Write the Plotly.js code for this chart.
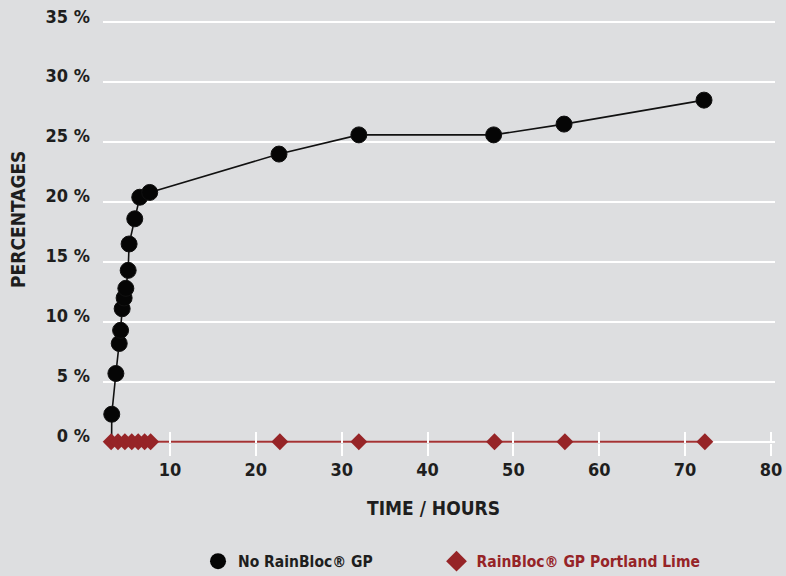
<!DOCTYPE html>
<html>
<head>
<meta charset="utf-8">
<script src="https://cdn.plot.ly/plotly-3.0.1.min.js"></script>
<style>html,body{margin:0;padding:0;background:#dddee0;}#chart{width:786px;height:576px;}</style>
</head>
<body>
<div id="chart"></div>
<script>
// Data
const timeNoRainBloc = [3.2, 3.22, 3.7, 4.09, 4.25, 4.43, 4.66, 4.86, 5.13, 5.24, 5.9, 6.48, 7.64, 22.7, 32.0, 47.7, 55.9, 72.2];
const pctNoRainBloc  = [0, 2.3, 5.7, 8.2, 9.3, 11.1, 12.0, 12.8, 14.3, 16.5, 18.6, 20.4, 20.8, 24.0, 25.6, 25.6, 26.5, 28.5];
const timePortland   = [3.15, 3.95, 4.75, 5.55, 6.3, 7.05, 7.75, 22.8, 32.0, 47.8, 56.0, 72.3];
const pctPortland    = [0, 0, 0, 0, 0, 0, 0, 0, 0, 0, 0, 0];
const nameNoRainBloc = 'No RainBloc® GP';
const namePortland   = 'RainBloc® GP Portland Lime';
const xTitle = 'TIME / HOURS';
const yTitle = 'PERCENTAGES';
const xTicks = [10, 20, 30, 40, 50, 60, 70, 80];
const yTicks = [0, 5, 10, 15, 20, 25, 30, 35];

const FONT = 'DejaVu Sans Condensed';
const DARK = '#1e1e1e';
const RED = '#962427';
const BG = '#dddee0';

const traces = [
  {
    x: timeNoRainBloc, y: pctNoRainBloc, name: nameNoRainBloc,
    type: 'scatter', mode: 'lines+markers', showlegend: false,
    line: {color: '#111111', width: 1.6},
    // the 0 % starting point is hidden behind the red diamonds in the reference
    marker: {color: '#050505', opacity: 1, size: pctNoRainBloc.map(v => v === 0 ? 0 : 16), symbol: 'circle'},
    cliponaxis: false
  },
  {
    x: timePortland, y: pctPortland, name: namePortland,
    type: 'scatter', mode: 'lines+markers', showlegend: false,
    line: {color: '#a33233', width: 2},
    marker: {color: RED, size: 13, symbol: 'diamond'},
    cliponaxis: false
  },
  { // legend entries (markers only, as in the reference)
    x: [null], y: [null], name: nameNoRainBloc, legend: 'legend',
    type: 'scatter', mode: 'markers',
    marker: {color: '#050505', size: 16, symbol: 'circle'}
  },
  {
    x: [null], y: [null], legend: 'legend2',
    name: '<span style="color:' + RED + '">' + namePortland + '</span>',
    type: 'scatter', mode: 'markers',
    marker: {color: RED, size: 16, symbol: 'diamond'}
  },
  { // invisible trace carrying the upper half of the x tick marks
    x: [xTicks[0]], y: [0], xaxis: 'x2', yaxis: 'y',
    type: 'scatter', mode: 'markers', marker: {opacity: 0}, showlegend: false, hoverinfo: 'skip'
  }
];

const legendFont = {family: FONT, size: 15.5, color: DARK, weight: 'bold'};

const layout = {
  width: 786, height: 576,
  paper_bgcolor: BG, plot_bgcolor: BG,
  margin: {l: 103, r: 11, t: 21, b: 133, autoexpand: false},
  font: {family: FONT, color: DARK, size: 16, weight: 'bold'},
  showlegend: true,
  legend: {
    orientation: 'h', x: 0.1414, xanchor: 'left', y: -0.281, yanchor: 'middle',
    font: legendFont, itemsizing: 'trace', bgcolor: 'rgba(0,0,0,0)'
  },
  legend2: {
    orientation: 'h', x: 0.4963, xanchor: 'left', y: -0.281, yanchor: 'middle',
    font: legendFont, itemsizing: 'trace', bgcolor: 'rgba(0,0,0,0)'
  },
  xaxis: {
    range: [2.2, 80.47], tickvals: xTicks, ticktext: xTicks.map(String),
    showgrid: false, zeroline: false, showline: false,
    ticks: 'outside', ticklen: 12, tickwidth: 2, tickcolor: '#ffffff',
    tickfont: {family: FONT, size: 18, color: DARK, weight: 'bold'},
    ticklabelstandoff: -2, ticklabeloverflow: 'allow'
  },
  xaxis2: {
    overlaying: 'x', matches: 'x', anchor: 'y', side: 'bottom',
    tickvals: xTicks, showticklabels: false, showgrid: false, zeroline: false, showline: false,
    ticks: 'inside', ticklen: 11, tickwidth: 2, tickcolor: '#ffffff'
  },
  yaxis: {
    range: [-0.1, 35.1], tickvals: yTicks, ticktext: yTicks.map(v => v + ' %'),
    showgrid: true, gridcolor: '#ffffff', gridwidth: 2,
    zeroline: false, showline: false, ticks: '',
    tickfont: {family: FONT, size: 18, color: DARK, weight: 'bold'},
    ticklabelstandoff: 12, ticklabelshift: -6
  },
  annotations: [
    {text: xTitle, xref: 'paper', yref: 'paper', x: 0.4911, y: -0.155, xanchor: 'center', yanchor: 'middle',
     showarrow: false, font: {family: FONT, size: 19, color: DARK, weight: 'bold'}},
    {text: yTitle, xref: 'paper', yref: 'paper', x: -0.1265, y: 0.531, xanchor: 'center', yanchor: 'middle',
     textangle: -90, showarrow: false, font: {family: FONT, size: 19, color: DARK, weight: 'bold'}}
  ]
};

Plotly.newPlot('chart', traces, layout, {displayModeBar: false, staticPlot: true});
</script>
</body>
</html>
